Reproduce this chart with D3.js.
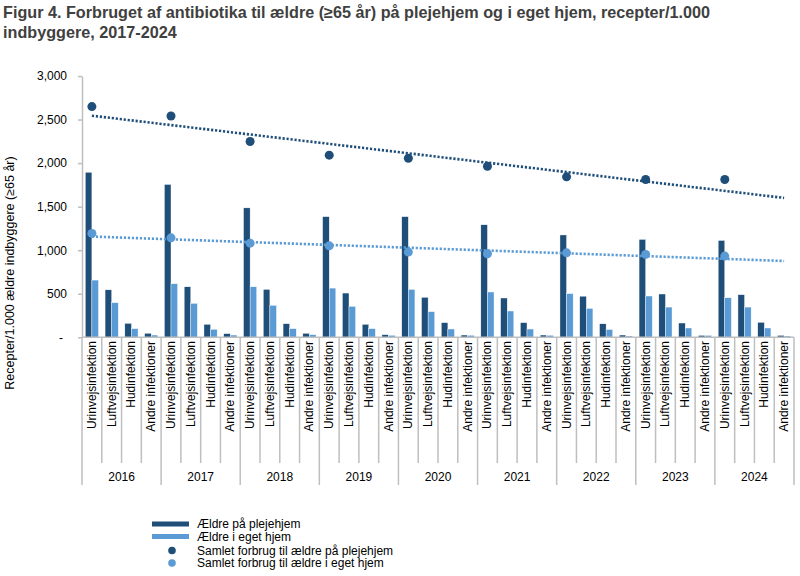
<!DOCTYPE html>
<html lang="da">
<head>
<meta charset="UTF-8">
<title>Figur 4</title>
<script src="https://d3js.org/d3.v7.min.js"></script>
<style>
    body { margin: 0; background: #fff; }
    svg text { font-family: "Liberation Sans", Arial, sans-serif; fill: #000; }
    .title { font-weight: bold; font-size: 16.2px; fill: #404040; }
    .axis path, .axis line { stroke: #bfbfbf; stroke-width: 1.5px; }
    .axis text { font-size: 12px; }
    .grid { stroke: #bfbfbf; stroke-width: 1.5px; }
</style>
</head>
<body>
<div id="chart"></div>
<script>
const years = ["2016", "2017", "2018", "2019", "2020", "2021", "2022", "2023", "2024"];
const categories = ["Urinvejsinfektion", "Luftvejsinfektion", "Hudinfektion", "Andre infektioner"];

// Ældre på plejehjem, per year
const plejeUrin  = [1895, 1755, 1486, 1385, 1385, 1292, 1175, 1124, 1112];
const plejeLuft  = [545, 580, 550, 508, 459, 451, 472, 497, 489];
const plejeHud   = [160, 149, 156, 149, 168, 168, 155, 164, 172];
const plejeAndre = [46, 42, 46, 30, 26, 26, 26, 22, 22];

// Ældre i eget hjem, per year
const egetUrin  = [657, 615, 580, 565, 550, 520, 502, 474, 454];
const egetLuft  = [397, 390, 367, 355, 294, 302, 332, 347, 347];
const egetHud   = [99, 92, 99, 99, 95, 95, 90, 107, 107];
const egetAndre = [26, 26, 30, 23, 23, 23, 15, 22, 15];

// Samlet forbrug
const samletPleje = [2649, 2541, 2248, 2091, 2056, 1964, 1842, 1812, 1812];
const samletEget  = [1193, 1142, 1081, 1050, 978, 959, 970, 952, 932];

const yTicks = [0, 500, 1000, 1500, 2000, 2500, 3000];

const colPleje = "#1f4e79";
const colEget = "#5b9bd5";

const width = 800, height = 576;
const plotLeft = 82, plotRight = 794, plotTop = 76, plotBottom = 337.3;

const plejeSeries = [plejeUrin, plejeLuft, plejeHud, plejeAndre];
const egetSeries = [egetUrin, egetLuft, egetHud, egetAndre];

// one row per category slot (year x category)
const rows = [];
years.forEach((yr, i) => {
    categories.forEach((cat, j) => {
        rows.push({ key: yr + "|" + cat, year: yr, cat: cat, j: j,
            pleje: plejeSeries[j][i], eget: egetSeries[j][i] });
    });
});

const svg = d3.select("#chart").append("svg")
    .attr("width", width)
    .attr("height", height);

svg.append("text").attr("class", "title").attr("x", 3).attr("y", 18)
    .text("Figur 4. Forbruget af antibiotika til ældre (≥65 år) på plejehjem og i eget hjem, recepter/1.000");
svg.append("text").attr("class", "title").attr("x", 3).attr("y", 37.5)
    .text("indbyggere, 2017-2024");

const x = d3.scaleBand().domain(rows.map(d => d.key)).range([plotLeft, plotRight]).padding(0);
const xInner = d3.scaleBand().domain(["pleje", "eget"]).range([0, x.bandwidth()])
    .paddingInner(0).paddingOuter(0.5);
const y = d3.scaleLinear().domain([0, 3000]).range([plotBottom, plotTop]);

// y axis
const yAxis = svg.append("g").attr("class", "axis")
    .attr("transform", `translate(${plotLeft},0)`)
    .call(d3.axisLeft(y).tickValues(yTicks).tickSize(4).tickPadding(11).tickSizeOuter(0)
        .tickFormat(d => d === 0 ? "-" : d3.format(",")(d)));
yAxis.selectAll(".tick text").filter(d => d === 0).attr("dx", -4);

svg.append("text")
    .attr("transform", `translate(14,${(plotTop + 470) / 2}) rotate(-90)`)
    .attr("text-anchor", "middle")
    .style("font-size", "12.5px")
    .text("Recepter/1.000 ældre indbyggere (≥65 år)");

// bars
const slot = svg.append("g").selectAll("g").data(rows).join("g")
    .attr("transform", d => `translate(${x(d.key)},0)`);
slot.append("rect")
    .attr("x", xInner("pleje")).attr("width", xInner.bandwidth())
    .attr("y", d => y(d.pleje)).attr("height", d => y(0) - y(d.pleje))
    .attr("fill", colPleje).attr("stroke", "#fff").attr("stroke-width", 0.4);
slot.append("rect")
    .attr("x", xInner("eget")).attr("width", xInner.bandwidth())
    .attr("y", d => y(d.eget)).attr("height", d => y(0) - y(d.eget))
    .attr("fill", colEget).attr("stroke", "#fff").attr("stroke-width", 0.4);

// category axis (two levels)
svg.append("line").attr("class", "grid")
    .attr("x1", plotLeft).attr("x2", plotRight).attr("y1", plotBottom).attr("y2", plotBottom);
const bounds = rows.map((d, i) => i).concat([rows.length]);
svg.append("g").selectAll("line").data(bounds).join("line")
    .attr("class", "grid")
    .attr("x1", i => plotLeft + i * x.step()).attr("x2", i => plotLeft + i * x.step())
    .attr("y1", plotBottom).attr("y2", i => i % 4 === 0 ? 485 : 463);

svg.append("g").selectAll("text").data(rows).join("text")
    .attr("transform", d => `translate(${x(d.key) + x.bandwidth() / 2 + 4},341) rotate(-90)`)
    .attr("text-anchor", "end")
    .style("font-size", "12px")
    .text(d => d.cat);

svg.append("g").selectAll("text").data(years).join("text")
    .attr("x", d => x(d + "|" + categories[0]) + x.step() * 2)
    .attr("y", 481)
    .attr("text-anchor", "middle")
    .style("font-size", "12px")
    .text(d => d);

// totals + linear trendlines over the category positions
function drawTotals(values, color) {
    const pts = values.map((v, i) => ({ idx: i * 4, v: v, key: years[i] + "|" + categories[0] }));
    const mx = d3.mean(pts, p => p.idx), my = d3.mean(pts, p => p.v);
    const slope = d3.sum(pts, p => (p.idx - mx) * (p.v - my)) / d3.sum(pts, p => (p.idx - mx) ** 2);
    const icpt = my - slope * mx;
    const cx = idx => plotLeft + (idx + 0.5) * x.step();
    const ends = [0, rows.length - 1];
    svg.append("line")
        .attr("x1", cx(ends[0])).attr("y1", y(icpt + slope * ends[0]))
        .attr("x2", cx(ends[1])).attr("y2", y(icpt + slope * ends[1]))
        .attr("stroke", color).attr("stroke-width", 2.6)
        .attr("stroke-dasharray", "2.2,1.8");
    svg.append("g").selectAll("circle").data(pts).join("circle")
        .attr("cx", p => x(p.key) + x.bandwidth() / 2)
        .attr("cy", p => y(p.v))
        .attr("r", 4.5)
        .attr("fill", color);
}
drawTotals(samletPleje, colPleje);
drawTotals(samletEget, colEget);

// legend
const legend = [
    { label: "Ældre på plejehjem", color: colPleje, type: "bar", yy: 524 },
    { label: "Ældre i eget hjem", color: colEget, type: "bar", yy: 536.5 },
    { label: "Samlet forbrug til ældre på plejehjem", color: colPleje, type: "dot", yy: 550.5 },
    { label: "Samlet forbrug til ældre i eget hjem", color: colEget, type: "dot", yy: 563 }
];
const lg = svg.append("g").selectAll("g").data(legend).join("g")
    .attr("transform", d => `translate(0,${d.yy})`);
lg.filter(d => d.type === "bar").append("rect")
    .attr("x", 152).attr("y", -2.5).attr("width", 37).attr("height", 5)
    .attr("fill", d => d.color);
lg.filter(d => d.type === "dot").append("circle")
    .attr("cx", 172).attr("cy", 0).attr("r", 3.8)
    .attr("fill", d => d.color);
lg.append("text").attr("x", 197).attr("y", 4.3)
    .style("font-size", "12px")
    .text(d => d.label);
</script>
</body>
</html>
